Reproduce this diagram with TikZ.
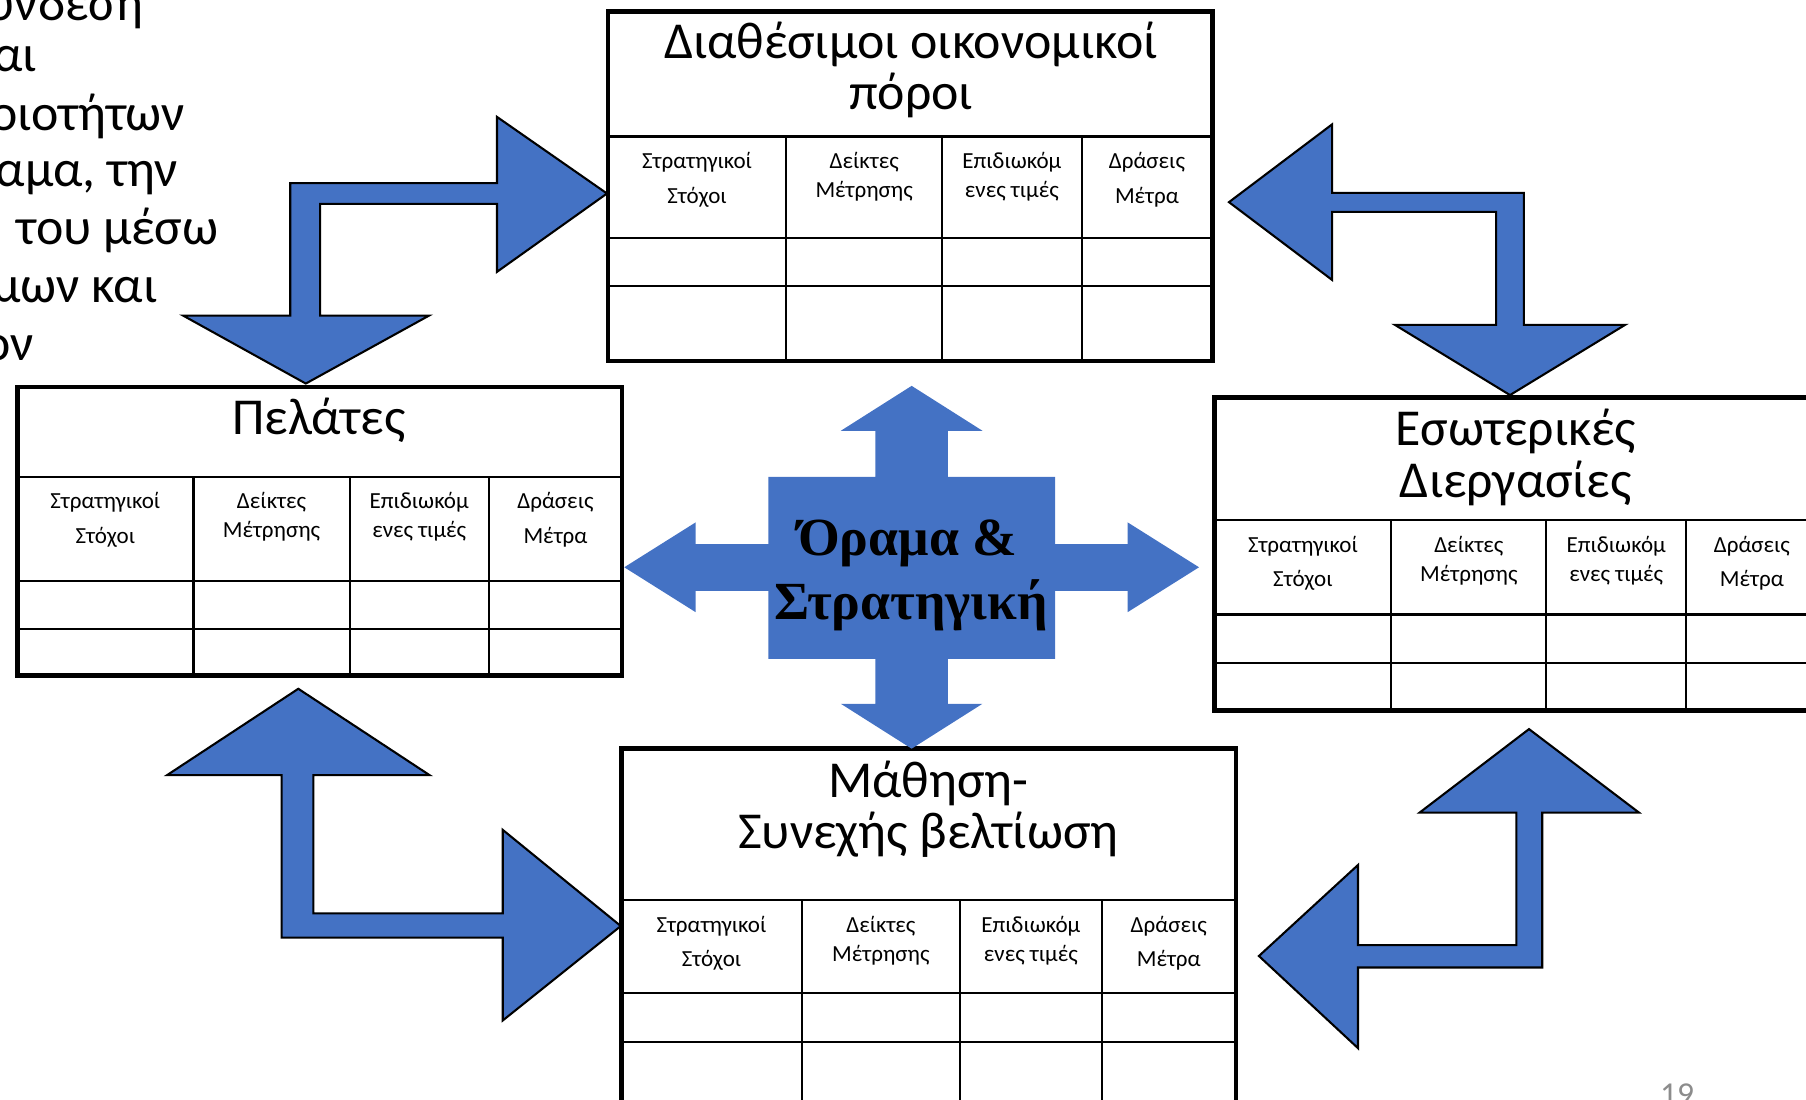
\documentclass[tikz,border=0pt]{standalone}
\usepackage{fontspec}
\setmainfont{Carlito}
\newfontfamily\serifbold{Liberation Serif}
\definecolor{arrowblue}{HTML}{4472C4}
\definecolor{pagegray}{HTML}{8C8C8C}

\tikzset{
  outerline/.style={line width=2pt, line join=miter},
  gridline/.style={line width=0.9pt},
  blockarrow/.style={fill=arrowblue, draw=black, line width=0.9pt, line join=miter},
  crossarrow/.style={fill=arrowblue, draw=none},
  paneltitle/.style={anchor=base, inner sep=0pt, font=\fontsize{22.5}{22.5}\selectfont},
  colhead/.style={anchor=base, inner sep=0pt, font=\fontsize{10}{10}\selectfont},
  sidetext/.style={anchor=base west, inner sep=0pt, font=\fontsize{22.5}{22.5}\selectfont},
}

% #1 left, #2..#4 column lines, #5 right, #6 top, #7 header line, #8 first row line, #9 bottom
\newcommand\bscpanel[9]{%
  \draw[gridline] (#1,#7) -- (#5,#7);
  \draw[gridline] (#1,#8) -- (#5,#8);
  \draw[gridline] (#1,#8+42) -- (#5,#8+42);
  \draw[gridline] (#2,#7) -- (#2,#9) (#3,#7) -- (#3,#9) (#4,#7) -- (#4,#9);
  \draw[outerline] (#1,#6) rectangle (#5,#9);
}

% #1 name prefix, #2 left, #3..#5 column lines, #6 right, #7 header line
\newcommand\bschead[7]{%
  \node[colhead] (#1-s1) at ({(#2+#3)/2},#7+28) {Στρατηγικοί};
  \node[colhead] (#1-s2) at ({(#2+#3)/2},#7+58) {Στόχοι};
  \node[colhead] (#1-d1) at ({(#3+#4)/2},#7+28) {Δείκτες};
  \node[colhead] (#1-d2) at ({(#3+#4)/2},#7+53) {Μέτρησης};
  \node[colhead] (#1-e1) at ({(#4+#5)/2},#7+28) {Επιδιωκόμ};
  \node[colhead] (#1-e2) at ({(#4+#5)/2},#7+53) {ενες τιμές};
  \node[colhead] (#1-m1) at ({(#5+#6)/2},#7+28) {Δράσεις};
  \node[colhead] (#1-m2) at ({(#5+#6)/2},#7+58) {Μέτρα};
}

\begin{document}
\begin{tikzpicture}[x=0.5pt,y=-0.5pt]
\useasboundingbox (0,0) rectangle (1568,955);

% text running in from the left margin
\node[sidetext] (t1) at (-12,17.4) {ύνδεση};
\node[sidetext] (t2) at (-6,62) {αι};
\node[sidetext] (t3) at (-9,113) {οιοτήτων};
\node[sidetext] (t4) at (-4,162) {αμα, την};
\node[sidetext] (t5) at (14,212.7) {του μέσω};
\node[sidetext] (t6) at (-7,263) {μων και};
\node[sidetext] (t7) at (-15,312.6) {ον};

% the four perspective tables
\bscpanel{528}{682.5}{818}{939}{1052.5}{10}{118.5}{206.5}{313.5}
\bschead{fin}{528}{682.5}{818}{939}{1052.5}{118.5}
\node[paneltitle] (fin-title1) at (791,50.5) {Διαθέσιμοι οικονομικοί};
\node[paneltitle] (fin-title2) at (791,95) {πόροι};

\bscpanel{15}{168}{303.5}{424.5}{540}{336}{413.8}{504.4}{586.5}
\bschead{cus}{15}{168}{303.5}{424.5}{540}{413.8}
\node[paneltitle] (cus-title) at (277,377) {Πελάτες};

\bscpanel{1054.5}{1208}{1342.5}{1464}{1578}{345}{451.5}{533.5}{617}
\bschead{int}{1054.5}{1208}{1342.5}{1464}{1578}{451.5}
\node[paneltitle] (int-title1) at (1316,386.5) {Εσωτερικές};
\node[paneltitle] (int-title2) at (1316,431.5) {Διεργασίες};

\bscpanel{539.5}{696}{833.5}{956.5}{1073}{650}{781.5}{862.5}{968}
\bschead{lrn}{539.5}{696}{833.5}{956.5}{1073}{781.5}
\node[paneltitle] (lrn-title1) at (806,692) {Μάθηση-};
\node[paneltitle] (lrn-title2) at (806,736.5) {Συνεχής βελτίωση};

% central four-way arrow
\path[crossarrow] (791.5,335) -- (853,374) -- (823,374) -- (823,414) -- (916,414)
  -- (916,472.5) -- (979,472.5) -- (979,453.5) -- (1041,492.5) -- (979,531.5)
  -- (979,513) -- (916,513) -- (916,572) -- (823,572) -- (823,611) -- (853,611)
  -- (791.5,650) -- (730,611) -- (760,611) -- (760,572) -- (667,572) -- (667,513)
  -- (604,513) -- (604,531.5) -- (542,492.5) -- (604,453.5) -- (604,472.5)
  -- (667,472.5) -- (667,414) -- (760,414) -- (760,374) -- (730,374) -- cycle;
\node[anchor=base, inner sep=0pt, font=\serifbold\bfseries\fontsize{23.3}{23.3}\selectfont] (vision1) at (788,482) {Όραμα \&};
\node[anchor=base, inner sep=0pt, font=\serifbold\bfseries\fontsize{23.3}{23.3}\selectfont] (vision2) at (791,538) {Στρατηγική};

% bent two-headed arrows between neighbouring tables
\draw[blockarrow] (527,168) -- (431.5,236) -- (431.5,177) -- (278,177) -- (278,274)
  -- (372.5,274) -- (265.5,333) -- (159,274) -- (252,274) -- (252,159)
  -- (431.5,159) -- (431.5,101.5) -- cycle;

\draw[blockarrow] (1067,175.5) -- (1156.5,108) -- (1156.5,167.5) -- (1323,167.5)
  -- (1323,282) -- (1411,282) -- (1311,343) -- (1211,282) -- (1299,282)
  -- (1299,184) -- (1156.5,184) -- (1156.5,243) -- cycle;

\draw[blockarrow] (259,598) -- (373,673) -- (272,673) -- (272,793) -- (436.5,793)
  -- (436.5,720.5) -- (539,804) -- (436.5,886) -- (436.5,814) -- (244.5,814)
  -- (244.5,673) -- (145,673) -- cycle;

\draw[blockarrow] (1327.5,633) -- (1423,705.5) -- (1339,705.5) -- (1339,840)
  -- (1179,840) -- (1179,910) -- (1093,830) -- (1179,751) -- (1179,820.5)
  -- (1316.5,820.5) -- (1316.5,705.5) -- (1232.5,705.5) -- cycle;

% slide number
\node[anchor=base, inner sep=0pt, text=pagegray, font=\fontsize{14.5}{14.5}\selectfont] (pageno) at (1456,960) {19};
\end{tikzpicture}
\end{document}
